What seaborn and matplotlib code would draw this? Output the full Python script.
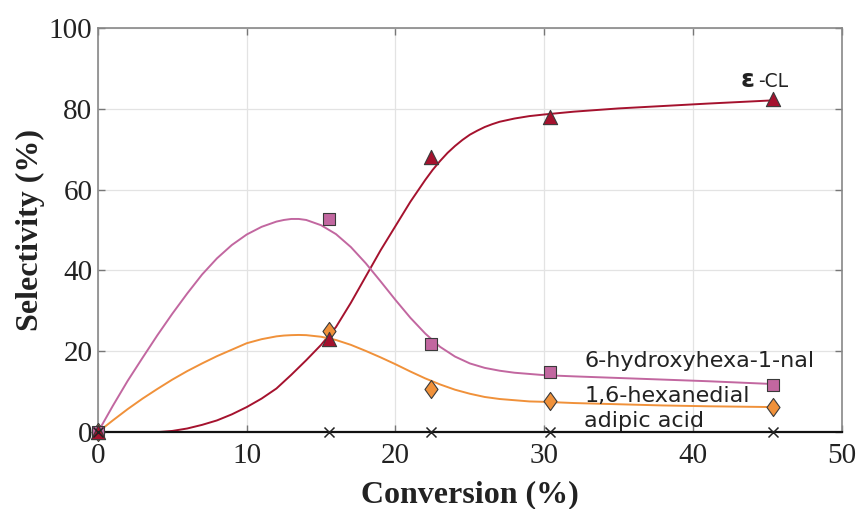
import numpy as np
import pandas as pd
import matplotlib
matplotlib.use("Agg")
import matplotlib.pyplot as plt
from matplotlib.path import Path
import seaborn as sns

# ---------------- data ----------------
conv = [0, 15.5, 22.4, 30.4, 45.4]
sel_cl = [0, 23.0, 68.2, 78.0, 82.4]
sel_hhn = [0, 52.8, 21.7, 15.0, 11.7]
sel_hdial = [0, 25.1, 10.6, 7.7, 6.3]
sel_adip = [0, 0, 0, 0, 0]

# fitted curves
fit_cl_x = [0, 4, 5, 6, 7, 8, 9, 10, 11, 12, 13, 14, 15, 16, 17, 18, 19, 20, 21, 22,
            22.5, 23, 23.5, 24, 24.5, 25, 25.5, 26, 26.5, 27, 28, 29, 30, 32, 35, 38,
            41, 45.4]
fit_cl_y = [0, 0, 0.3, 0.9, 1.8, 2.9, 4.4, 6.2, 8.3, 10.8, 14.2, 17.8, 21.6, 26, 32,
            38.5, 45, 51, 57, 62.4, 64.9, 67.1, 69.1, 70.8, 72.3, 73.6, 74.6, 75.5,
            76.2, 76.8, 77.6, 78.2, 78.6, 79.3, 80.1, 80.7, 81.3, 82.1]
fit_x = [0, 1, 2, 3, 4, 5, 6, 7, 8, 9, 10, 11, 12, 12.5, 13, 13.5, 14, 15, 16, 17, 18,
         19, 20, 21, 22, 23, 24, 25, 26, 27, 28, 29, 30, 32, 35, 38, 41, 45.4]
fit_hhn_y = [0, 6.5, 12.7, 18.4, 24, 29.3, 34.3, 39, 43, 46.3, 48.9, 50.8, 52.1, 52.5,
             52.75, 52.75, 52.5, 51.2, 49, 45.8, 41.8, 37.3, 32.7, 28.3, 24.4, 21.1,
             18.7, 17.0, 15.9, 15.2, 14.7, 14.4, 14.1, 13.8, 13.4, 13, 12.6, 11.9]
fit_hdial_y = [0, 2.9, 5.7, 8.3, 10.7, 13.0, 15.1, 17.0, 18.8, 20.4, 22.0, 23.0, 23.7,
               23.9, 24.0, 24.05, 24.0, 23.6, 22.8, 21.6, 20.1, 18.5, 16.8, 15.0, 13.3,
               11.8, 10.5, 9.5, 8.7, 8.2, 7.9, 7.6, 7.5, 7.2, 6.9, 6.6, 6.4, 6.2]

labels = ["ε", "-CL", "6-hydroxyhexa-1-nal", "1,6-hexanedial", "adipic acid"]
x_ticks = [0, 10, 20, 30, 40, 50]
y_ticks = [0, 20, 40, 60, 80, 100]

c_cl = "#a5122e"
c_hhn = "#c267a0"
c_hdial = "#f0913a"

# ---------------- figure ----------------
sns.set_theme(style="white")
plt.rcParams["font.family"] = ["Liberation Serif", "DejaVu Serif"]

fig = plt.figure(figsize=(8.59, 5.09), dpi=100)
ax = fig.add_axes([0.114, 0.151, 0.866, 0.794])

ax.set_axisbelow(True)
ax.grid(True, color="#e3e3e3", linewidth=0.9)

# curves
sns.lineplot(x=fit_cl_x, y=fit_cl_y, ax=ax, color=c_cl, lw=1.4, sort=False, estimator=None)
sns.lineplot(x=fit_x, y=fit_hhn_y, ax=ax, color=c_hhn, lw=1.4, sort=False, estimator=None)
sns.lineplot(x=fit_x, y=fit_hdial_y, ax=ax, color=c_hdial, lw=1.4, sort=False, estimator=None)

diamond = Path([(0, 1), (0.72, 0), (0, -1), (-0.72, 0), (0, 1)],
               [Path.MOVETO, Path.LINETO, Path.LINETO, Path.LINETO, Path.CLOSEPOLY])

kw = dict(ax=ax, edgecolor="#3a3a3a", linewidth=0.8, clip_on=False, zorder=5, legend=False)
sns.scatterplot(x=conv, y=sel_hdial, marker=diamond, s=170, color=c_hdial, **kw)
sns.scatterplot(x=conv, y=sel_hhn, marker="s", s=72, color=c_hhn, **kw)
sns.scatterplot(x=conv, y=sel_cl, marker="^", s=105, color=c_cl, **kw)
sns.scatterplot(x=conv, y=sel_adip, marker="x", s=52, color="#222222", ax=ax,
                linewidth=1.1, clip_on=False, zorder=6, legend=False)

ax.set_xlim(0, 50)
ax.set_ylim(0, 100)
ax.set_xticks(x_ticks)
ax.set_yticks(y_ticks)
ax.tick_params(axis="both", which="both", direction="in", length=5, width=1,
               color="#777777", labelsize=21, labelcolor="#222222",
               top=True, right=True, bottom=True, left=True)
ax.tick_params(axis="x", pad=8)
ax.tick_params(axis="y", pad=4)

for side in ["left", "top", "right"]:
    ax.spines[side].set_color("#888888")
    ax.spines[side].set_linewidth(1.2)
ax.spines["bottom"].set_color("#111111")
ax.spines["bottom"].set_linewidth(1.6)

ax.set_xlabel("Conversion (%)", fontsize=23, fontweight="bold", color="#222222", labelpad=8)
ax.set_ylabel("Selectivity (%)", fontsize=23, fontweight="bold", color="#222222", labelpad=3)

# annotations
sans = ["DejaVu Sans"]
ax.text(43.2, 85.3, labels[0], fontsize=18, fontweight="bold", family=sans, color="#222222",
        ha="left", va="baseline")
ax.text(44.35, 85.3, labels[1], fontsize=13.5, family=sans, color="#222222",
        ha="left", va="baseline")
ax.text(32.7, 16.0, labels[2], fontsize=16, family=sans, color="#222222", ha="left", va="baseline")
ax.text(32.7, 7.5, labels[3], fontsize=16, family=sans, color="#222222", ha="left", va="baseline")
ax.text(32.7, 1.15, labels[4], fontsize=16, family=sans, color="#222222", ha="left", va="baseline")

fig.savefig("out.png", dpi=100)
